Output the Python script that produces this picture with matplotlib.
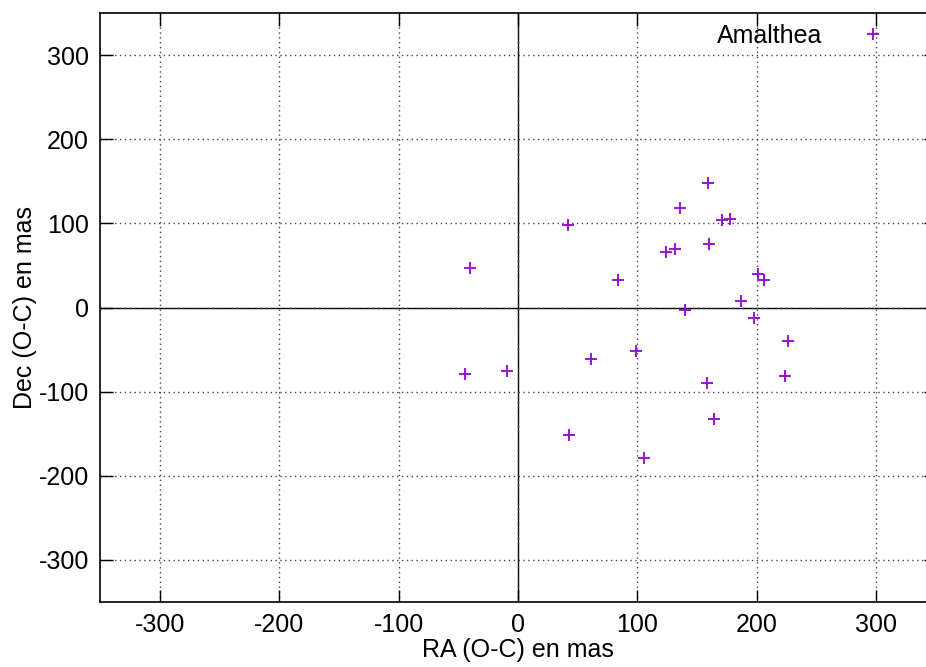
import matplotlib
matplotlib.use("Agg")
import matplotlib.pyplot as plt

# O-C residuals of Amalthea, in mas
ra_oc = [-40.2, 41.6, 135.8, 123.8, 131.8, 83.8, 140.2, 98.6, 61.2,
         159.8, 200.9, 205.9, 187.1, 197.8, 225.7, 223.2, 158.4, 164.5,
         105.6, 159.0, 170.4, 177.7, -44.2, -9.5, 42.5]
dec_oc = [46.8, 97.9, 118.8, 65.8, 70.1, 32.1, -3.1, -51.4, -61.0,
          75.3, 39.7, 32.1, 7.6, -11.9, -40.4, -81.9, -90.3, -132.6,
          -179.3, 148.5, 104.2, 105.0, -79.1, -75.2, -151.2]
series_label = "Amalthea"
ticks = [-300, -200, -100, 0, 100, 200, 300]

plt.rcParams["font.family"] = ["Liberation Sans", "DejaVu Sans"]
plt.rcParams["axes.unicode_minus"] = False

fig = plt.figure(figsize=(9.26, 6.67), dpi=100)
ax = fig.add_axes([100 / 926, 65 / 667, 836 / 926, 589 / 667])

ax.axhline(0, color="black", linewidth=1.0, zorder=1)
ax.axvline(0, color="black", linewidth=1.0, zorder=1)
ax.plot(ra_oc, dec_oc, linestyle="none", marker="+", markersize=8,
        markeredgewidth=1.3, color="#9400d3", label=series_label, zorder=3)

ax.set_xlim(-350, 350)
ax.set_ylim(-350, 350)
ax.set_xticks(ticks)
ax.set_yticks(ticks)
ax.tick_params(direction="in", length=9, width=1, labelsize=18,
               top=True, right=True, pad=8)
ax.grid(True, color="#444444", linestyle=(0, (1, 2.5)), linewidth=1)
for sp in ax.spines.values():
    sp.set_linewidth(1.2)

ax.set_xlabel("RA (O-C) en mas", fontsize=18, labelpad=1)
ax.set_ylabel("Dec (O-C) en mas", fontsize=18, labelpad=1)

ax.legend(loc="upper right", bbox_to_anchor=(902 / 926, 1 - 14 / 667),
          bbox_transform=fig.transFigure, frameon=False, markerfirst=False,
          fontsize=18, handlelength=1.5, handletextpad=1.3,
          borderaxespad=0)

fig.savefig("out.png", dpi=100)
